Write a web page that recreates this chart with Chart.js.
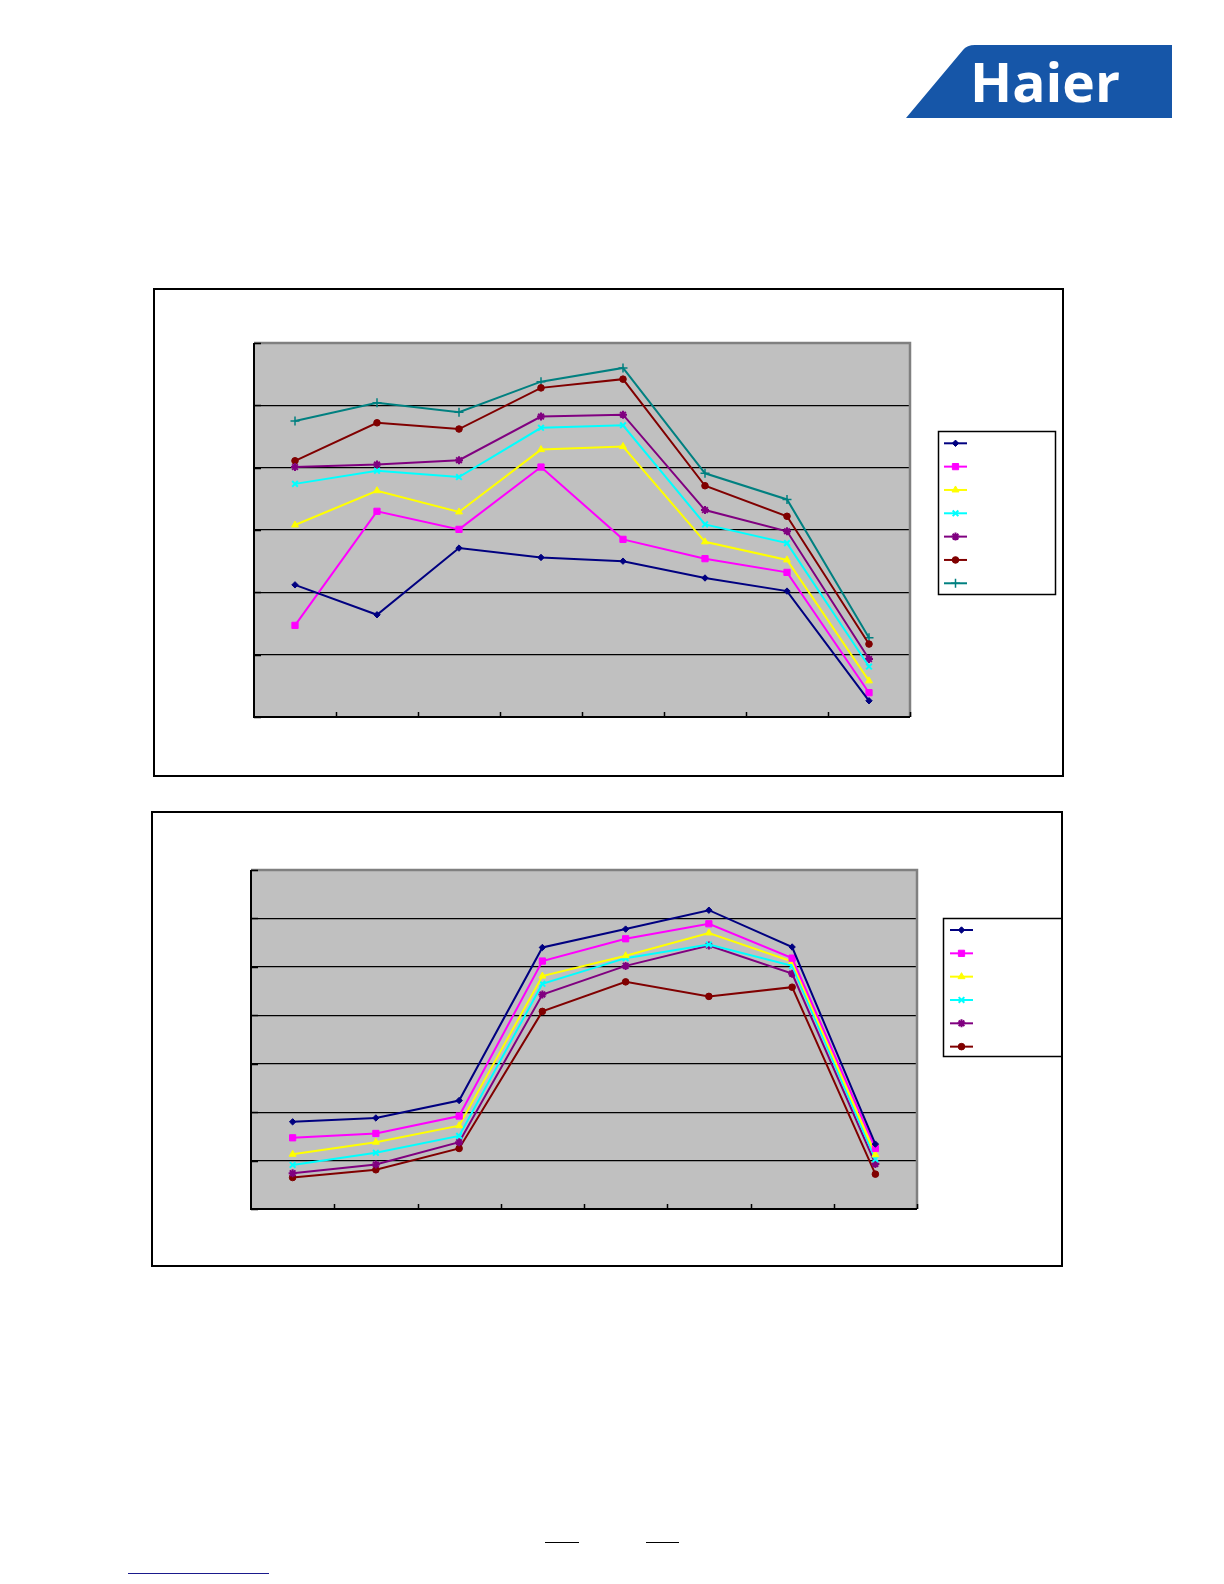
<!DOCTYPE html>
<html>
<head>
<meta charset="utf-8">
<script src="https://cdn.jsdelivr.net/npm/chart.js@4.4.1/dist/chart.umd.min.js"></script>
<style>
html,body{margin:0;padding:0;background:#fff;}
body{width:1224px;height:1584px;position:relative;overflow:hidden;font-family:"Liberation Sans",Arial,sans-serif;}
.frame{position:absolute;border:2px solid #000;box-sizing:border-box;pointer-events:none;}
canvas.c{position:absolute;}
.rule{position:absolute;height:1px;}
</style>
</head>
<body>

<svg style="position:absolute;left:900px;top:40px" width="280" height="85">
  <path d="M75,5 L272,5 L272,78 L6,78 L63,10 Q67,5 75,5 Z" fill="#1656a8"/>
  <text x="70" y="61.7" textLength="150" lengthAdjust="spacingAndGlyphs" font-family="Open Sans" font-weight="700" font-size="54" fill="#ffffff">Haier</text>
</svg>

<canvas id="chart1" class="c" width="911" height="489" style="left:153px;top:288px"></canvas>
<div class="frame" style="left:153px;top:288px;width:911px;height:489px"></div>

<canvas id="chart2" class="c" width="912" height="456" style="left:151px;top:811px"></canvas>
<div class="frame" style="left:151px;top:811px;width:912px;height:456px"></div>

<div class="rule" style="left:545px;top:1542px;width:34px;background:#000"></div>
<div class="rule" style="left:646px;top:1542px;width:33px;background:#000"></div>
<div class="rule" style="left:128px;top:1573px;width:141px;background:#1a1a8c"></div>

<script>
// ---------- data: chart 1 ----------
const categories1 = ['C1','C2','C3','C4','C5','C6','C7','C8'];
const c1Series1 = [21.2, 16.4, 27.1, 25.6, 25.0, 22.3, 20.2, 2.6];
const c1Series2 = [14.7, 33.0, 30.1, 40.1, 28.5, 25.4, 23.2, 3.9];
const c1Series3 = [30.8, 36.3, 32.9, 42.9, 43.4, 28.1, 25.2, 5.8];
const c1Series4 = [37.4, 39.5, 38.5, 46.4, 46.8, 30.9, 27.9, 8.1];
const c1Series5 = [40.1, 40.5, 41.2, 48.2, 48.5, 33.2, 29.8, 9.3];
const c1Series6 = [41.1, 47.2, 46.2, 52.8, 54.2, 37.1, 32.2, 11.7];
const c1Series7 = [47.5, 50.4, 48.9, 53.8, 56.0, 39.1, 34.9, 12.7];
const c1YTicks = [0, 10, 20, 30, 40, 50, 60];

// ---------- data: chart 2 ----------
const categories2 = ['C1','C2','C3','C4','C5','C6','C7','C8'];
const c2Series1 = [18.0, 18.8, 22.4, 54.0, 57.8, 61.7, 54.1, 13.4];
const c2Series2 = [14.7, 15.6, 19.2, 51.2, 55.8, 58.9, 51.8, 12.5];
const c2Series3 = [11.3, 13.8, 17.2, 48.1, 52.3, 57.0, 51.1, 11.2];
const c2Series4 = [9.1, 11.6, 15.1, 46.5, 51.8, 54.6, 50.2, 10.3];
const c2Series5 = [7.4, 9.2, 13.8, 44.3, 50.2, 54.4, 48.6, 9.3];
const c2Series6 = [6.5, 8.1, 12.5, 40.8, 46.9, 43.9, 45.8, 7.2];
const c2YTicks = [0, 10, 20, 30, 40, 50, 60, 70];

// ---------- styles ----------
const seriesStyles = [
  {color:'#000080', style:'rectRot',  r:3.2, bw:1},
  {color:'#ff00ff', style:'rect',     r:4.4, bw:1},
  {color:'#ffff00', style:'triangle', r:4,   bw:1},
  {color:'#00ffff', style:'crossRot', r:4,   bw:2},
  {color:'#800080', style:'star',     r:4,   bw:2},
  {color:'#800000', style:'circle',   r:3.3, bw:1},
  {color:'#008080', style:'cross',    r:4.5, bw:1.5}
];

function drawMarker(ctx, st, x, y) {
  ctx.save();
  ctx.fillStyle = st.color;
  ctx.strokeStyle = st.color;
  ctx.lineWidth = st.bw;
  if (Chart.helpers && Chart.helpers.drawPoint) {
    Chart.helpers.drawPoint(ctx, {pointStyle: st.style, rotation: 0, radius: st.r, borderWidth: st.bw}, x, y);
  } else {
    ctx.beginPath(); ctx.arc(x, y, st.r, 0, Math.PI*2); ctx.fill();
  }
  ctx.restore();
}

function makeDeco(legend) {
  return {
    id: 'deco',
    beforeDraw(chart) {
      const {ctx, chartArea: a} = chart;
      ctx.save();
      ctx.fillStyle = '#c0c0c0';
      ctx.fillRect(a.left, a.top, a.right - a.left, a.bottom - a.top);
      ctx.restore();
    },
    beforeDatasetsDraw(chart) {
      const {ctx, chartArea: a} = chart;
      const xs = chart.scales.x, ys = chart.scales.y;
      ctx.save();
      // gray plot border top/right
      ctx.strokeStyle = '#808080';
      ctx.lineWidth = 2.5;
      ctx.beginPath();
      ctx.moveTo(a.left, a.top); ctx.lineTo(a.right, a.top); ctx.lineTo(a.right, a.bottom);
      ctx.stroke();
      // inside tick marks
      ctx.strokeStyle = '#000';
      ctx.lineWidth = 1.5;
      const n = chart.data.labels.length;
      const w = (a.right - a.left) / n;
      for (let i = 0; i < n; i++) {
        const x = Math.round(xs.getPixelForValue(i) + w / 2) + 0.5;
        ctx.beginPath(); ctx.moveTo(x, a.bottom); ctx.lineTo(x, a.bottom - 5); ctx.stroke();
      }
      ys.ticks.forEach(t => {
        const y = Math.round(ys.getPixelForValue(t.value)) + 0.5;
        ctx.beginPath(); ctx.moveTo(a.left, y); ctx.lineTo(a.left + 7, y); ctx.stroke();
      });
      // black axes
      ctx.lineWidth = 2;
      ctx.beginPath();
      ctx.moveTo(a.left, a.top); ctx.lineTo(a.left, a.bottom); ctx.lineTo(a.right, a.bottom);
      ctx.stroke();
      ctx.restore();
    },
    afterDraw(chart) {
      const {ctx} = chart;
      ctx.save();
      ctx.fillStyle = '#fff';
      ctx.fillRect(legend.x, legend.y, legend.w, legend.h);
      ctx.strokeStyle = '#000';
      ctx.lineWidth = 1.5;
      ctx.strokeRect(legend.x + 0.5, legend.y + 0.5, legend.w - 1, legend.h - 1);
      chart.data.datasets.forEach((ds, i) => {
        const st = seriesStyles[i];
        const y = legend.firstY + i * legend.step;
        ctx.strokeStyle = st.color;
        ctx.lineWidth = 2;
        ctx.beginPath(); ctx.moveTo(legend.lx1, y); ctx.lineTo(legend.lx2, y); ctx.stroke();
        drawMarker(ctx, st, (legend.lx1 + legend.lx2) / 2, y);
      });
      ctx.restore();
    }
  };
}

function makeChart(id, cats, series, yTicks, padding, legend) {
  const yMax = yTicks[yTicks.length - 1];
  return new Chart(document.getElementById(id), {
    type: 'line',
    data: {
      labels: cats,
      datasets: series.map((d, i) => {
        const st = seriesStyles[i];
        return {
          label: 'Series ' + (i + 1),
          data: d,
          borderColor: st.color,
          backgroundColor: st.color,
          pointBackgroundColor: st.color,
          pointBorderColor: st.color,
          pointStyle: st.style,
          pointRadius: st.r,
          pointBorderWidth: st.bw,
          borderWidth: 2,
          tension: 0,
          fill: false
        };
      })
    },
    options: {
      responsive: false,
      animation: false,
      devicePixelRatio: 1,
      layout: {autoPadding: false, padding: padding},
      plugins: {legend: {display: false}, tooltip: {enabled: false}, title: {display: false}},
      scales: {
        x: {
          offset: true,
          grid: {display: false},
          border: {display: false},
          ticks: {display: false},
          afterFit(s) { s.height = 0; }
        },
        y: {
          min: yTicks[0], max: yMax,
          afterBuildTicks(s) { s.ticks = yTicks.map(v => ({value: v})); },
          ticks: {display: false},
          grid: {
            drawTicks: false,
            lineWidth: 1.2,
            color: c => (c.tick && (c.tick.value === yTicks[0] || c.tick.value === yMax)) ? 'rgba(0,0,0,0)' : '#000'
          },
          border: {display: false},
          afterFit(s) { s.width = 0; }
        }
      }
    },
    plugins: [makeDeco(legend)]
  });
}

makeChart('chart1', categories1,
  [c1Series1, c1Series2, c1Series3, c1Series4, c1Series5, c1Series6, c1Series7],
  c1YTicks,
  {left: 101, top: 55, right: 154, bottom: 60},
  {x: 785, y: 143, w: 118, h: 164, firstY: 155.3, step: 23.33, lx1: 791, lx2: 814});

makeChart('chart2', categories2,
  [c2Series1, c2Series2, c2Series3, c2Series4, c2Series5, c2Series6],
  c2YTicks,
  {left: 100, top: 59, right: 146, bottom: 58},
  {x: 792, y: 107, w: 125, h: 139, firstY: 119, step: 23.33, lx1: 799, lx2: 822});
</script>
</body>
</html>
